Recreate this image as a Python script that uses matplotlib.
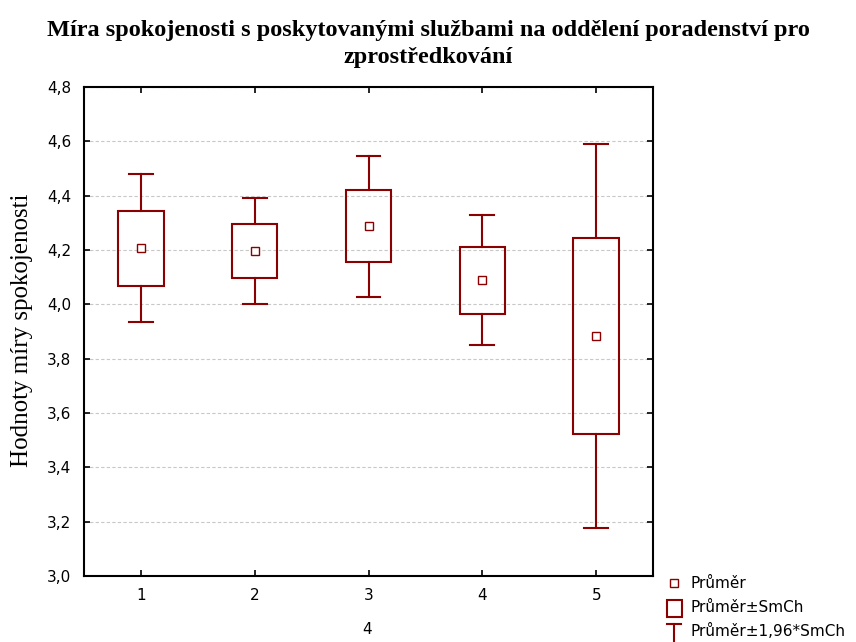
import numpy as np
import matplotlib.pyplot as plt
from matplotlib.patches import Rectangle
from matplotlib.lines import Line2D
from matplotlib.ticker import FuncFormatter

# data
groups = [1, 2, 3, 4, 5]
means = [4.206, 4.197, 4.287, 4.088, 3.883]
se = [0.139, 0.100, 0.133, 0.122, 0.360]
z = 1.96

col = "#8B0000"
plt.rcParams["font.family"] = ["DejaVu Sans"]

fig = plt.figure(figsize=(8.56, 6.42), dpi=100)
ax = fig.add_axes([0.098, 0.103, 0.665, 0.7615])

box_w = 0.40
cap_w = 0.21
for g, m, s in zip(groups, means, se):
    lo, hi = m - z * s, m + z * s
    # whiskers
    ax.plot([g, g], [m + s, hi], color=col, lw=1.5, zorder=3)
    ax.plot([g, g], [lo, m - s], color=col, lw=1.5, zorder=3)
    ax.plot([g - cap_w / 2, g + cap_w / 2], [hi, hi], color=col, lw=1.5, zorder=3)
    ax.plot([g - cap_w / 2, g + cap_w / 2], [lo, lo], color=col, lw=1.5, zorder=3)
    # box
    ax.add_patch(Rectangle((g - box_w / 2, m - s), box_w, 2 * s, fill=False,
                           edgecolor=col, lw=1.5, zorder=3))
    # mean
    ax.plot(g, m, marker="s", ms=5.5, mfc="white", mec=col, mew=1.0, zorder=4)

ax.set_xlim(0.5, 5.5)
ax.set_ylim(3.0, 4.8)
ax.set_xticks(groups)
ax.set_yticks(np.arange(3.0, 4.81, 0.2))
ax.yaxis.set_major_formatter(FuncFormatter(lambda v, p: f"{v:.1f}".replace(".", ",")))
ax.tick_params(direction="in", top=True, right=True, length=4, width=1.2, labelsize=11)
ax.tick_params(axis="x", pad=9)
ax.tick_params(axis="y", pad=9)
ax.grid(axis="y", color="#c8c8c8", linestyle=(0, (3, 2)), lw=0.8)
ax.set_axisbelow(True)
for sp in ax.spines.values():
    sp.set_linewidth(1.5)

fig.text(0.5, 1 - 44 / 642, "Míra spokojenosti s poskytovanými službami na oddělení poradenství pro\nzprostředkování",
         ha="center", va="center", fontsize=17.5, fontweight="bold", family="Liberation Serif",
         linespacing=1.35)
fig.text(22 / 856, 1 - 330 / 642, "Hodnoty míry spokojenosti", rotation=90, ha="center", va="center",
         fontsize=18, family="Liberation Serif")
fig.text(367 / 856, 1 - 630 / 642, "4", ha="center", va="center", fontsize=11)

# legend
lx = 674 / 856
fig.add_artist(Line2D([lx], [1 - 583 / 642], marker="s", ms=5.5, mfc="white", mec=col, mew=1.0,
                      transform=fig.transFigure))
fig.text(690 / 856, 1 - 583 / 642, "Průměr", va="center", fontsize=11)
fig.add_artist(Rectangle((667 / 856, 1 - 617 / 642), 15 / 856, 17 / 642, fill=False,
                         edgecolor=col, lw=1.5, transform=fig.transFigure))
fig.text(690 / 856, 1 - 608 / 642, "Průměr±SmCh", va="center", fontsize=11)
fig.add_artist(Line2D([lx, lx], [1 - 642 / 642, 1 - 624 / 642], color=col, lw=1.5,
                      transform=fig.transFigure))
fig.add_artist(Line2D([lx - 7 / 856, lx + 7 / 856], [1 - 624 / 642, 1 - 624 / 642], color=col, lw=1.5,
                      transform=fig.transFigure))
fig.text(690 / 856, 1 - 631 / 642, "Průměr±1,96*SmCh", va="center", fontsize=11)

fig.savefig("out.png", dpi=100)
